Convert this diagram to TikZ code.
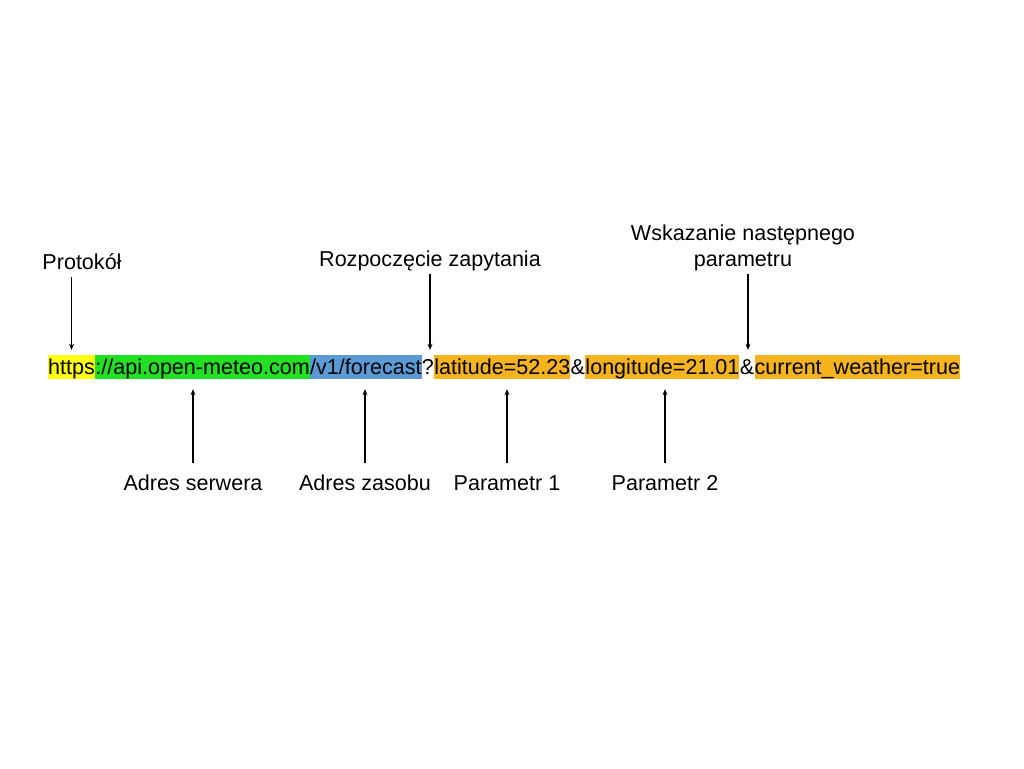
\documentclass[tikz,border=0pt]{standalone}
\usepackage{fontspec}
\setmainfont{Liberation Sans}
\usetikzlibrary{arrows.meta}

\definecolor{protoyellow}{HTML}{FFFF10}
\definecolor{servergreen}{HTML}{22E022}
\definecolor{resblue}{HTML}{5B9BD5}
\definecolor{paramorange}{HTML}{F5B31F}

\begin{document}
\begin{tikzpicture}[x=1pt, y=-1pt,
    seg/.style={inner sep=0pt, text height=19pt, text depth=5pt, anchor=base west},
    lbl/.style={inner sep=0pt, text height=15.5pt, text depth=4.6pt, anchor=base},
    downptr/.style={-{Stealth[length=6pt,width=5pt]}, line width=1.1pt, shorten <=3pt, shorten >=5pt},
    upptr/.style={-{Stealth[length=6pt,width=5pt]}, line width=1.1pt, shorten <=11pt, shorten >=10pt},
    every node/.style={font=\fontsize{21.55}{25.5}\selectfont}]

% Page frame
\useasboundingbox[fill=white] (0,0) rectangle (1024,768);

% The URL, one coloured piece after another
\node[seg, fill=protoyellow] (proto) at (48,374) {https};
\node[seg, fill=servergreen] (server) at (proto.base east) {://api.open-meteo.com};
\node[seg, fill=resblue] (resource) at (server.base east) {/v1/forecast};
\node[seg] (qmark) at (resource.base east) {?};
\node[seg, fill=paramorange] (par1) at (qmark.base east) {latitude=52.23};
\node[seg] (amp1) at (par1.base east) {\&};
\node[seg, fill=paramorange] (par2) at (amp1.base east) {longitude=21.01};
\node[seg] (amp2) at (par2.base east) {\&};
\node[seg, fill=paramorange] (par3) at (amp2.base east) {current\_weather=true};

% Labels above
\node[lbl] (lblProto) at (82,269) {Protokół};
\node[lbl] (lblQuery) at (430,266) {Rozpoczęcie zapytania};
\node[align=center, inner sep=0pt, anchor=base] (lblNext) at (743,266) {Wskazanie następnego\\parametru};

\draw[downptr] (lblProto.south -| proto.north) -- (proto.north);
\draw[downptr] (lblQuery.south) -- (lblQuery.south |- qmark.north);
\draw[downptr] ([xshift=5pt]lblNext.south) -- ([xshift=5pt]lblNext.south |- amp2.north);

% Labels below
\foreach \name/\target/\x/\txt in {lblServer/server/193/Adres serwera,
    lblRes/resource/365/Adres zasobu, lblPar1/par1/507/Parametr 1, lblPar2/par2/665/Parametr 2}
{
    \node[lbl] (\name) at (\x,490) {\txt};
    \draw[upptr] (\name.north) -- (\name.north |- \target.south);
}
\end{tikzpicture}
\end{document}
